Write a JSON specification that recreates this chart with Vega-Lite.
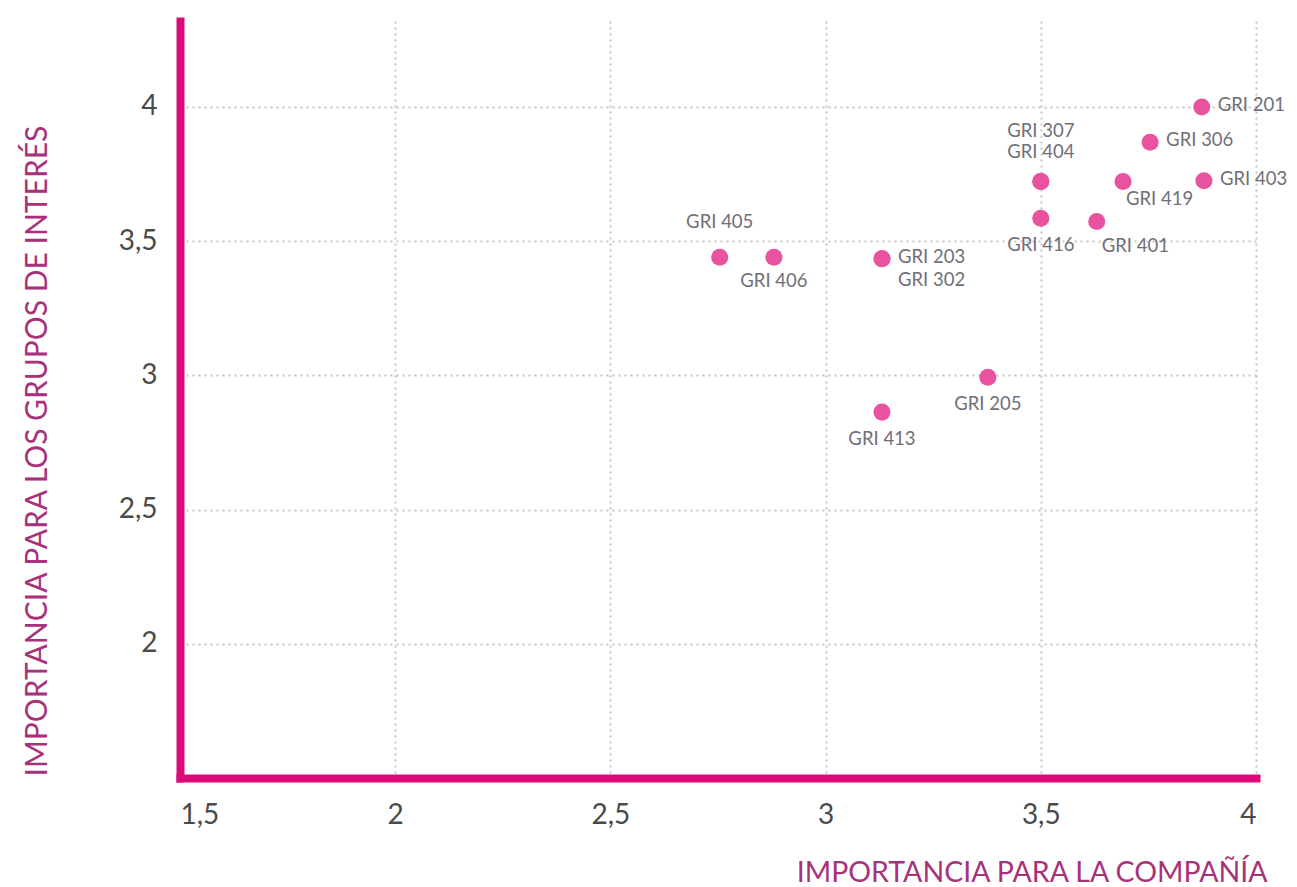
{
  "$schema": "https://vega.github.io/schema/vega-lite/v6.json",
  "autosize": "none",
  "width": 1076,
  "height": 757,
  "padding": {"left": 180, "top": 21, "right": 41, "bottom": 109},
  "background": "white",
  "config": {
    "view": {"stroke": null},
    "font": "Lato",
    "text": {"font": "Lato", "fontSize": 18.5, "color": "#6f6f78", "baseline": "middle"}
  },
  "data": {
    "values": [
      {"codigo": "GRI 201", "compania": 3.874, "grupos": 4.0},
      {"codigo": "GRI 306", "compania": 3.754, "grupos": 3.868},
      {"codigo": "GRI 403", "compania": 3.879, "grupos": 3.725},
      {"codigo": "GRI 419", "compania": 3.691, "grupos": 3.722},
      {"codigo": "GRI 307", "compania": 3.5, "grupos": 3.722},
      {"codigo": "GRI 404", "compania": 3.5, "grupos": 3.722},
      {"codigo": "GRI 416", "compania": 3.5, "grupos": 3.585},
      {"codigo": "GRI 401", "compania": 3.63, "grupos": 3.573},
      {"codigo": "GRI 405", "compania": 2.754, "grupos": 3.44},
      {"codigo": "GRI 406", "compania": 2.88, "grupos": 3.44},
      {"codigo": "GRI 203", "compania": 3.131, "grupos": 3.434},
      {"codigo": "GRI 302", "compania": 3.131, "grupos": 3.434},
      {"codigo": "GRI 205", "compania": 3.377, "grupos": 2.993},
      {"codigo": "GRI 413", "compania": 3.131, "grupos": 2.863}
    ]
  },
  "encoding": {
    "x": {
      "field": "compania", "type": "quantitative",
      "scale": {"domain": [1.5, 4], "nice": false, "zero": false},
      "axis": {
        "values": [1.5, 2, 2.5, 3, 3.5, 4],
        "labelExpr": "replace(toString(datum.value), '.', ',')",
        "labelFont": "Lato", "labelFontSize": 28, "labelColor": "#4a4a4a",
        "labelPadding": 23, "labelBaseline": "top",
        "ticks": false, "tickSize": 0,
        "domainColor": "#dc0a78", "domainWidth": 8, "domainCap": "square",
        "grid": true, "gridColor": "#c4c4c4", "gridDash": [2, 4], "gridWidth": 2,
        "title": "IMPORTANCIA PARA LA COMPAÑÍA",
        "titleFont": "Lato", "titleFontSize": 28.5, "titleFontWeight": "normal",
        "titleColor": "#a8327a", "titleAnchor": "end", "titleAlign": "right",
        "titleBaseline": "alphabetic", "titleX": 1087, "titleY": 103
      }
    },
    "y": {
      "field": "grupos", "type": "quantitative",
      "scale": {"domain": [1.5, 4.32], "nice": false, "zero": false},
      "axis": {
        "values": [1.5, 2, 2.5, 3, 3.5, 4],
        "labelExpr": "datum.value == 1.5 ? '' : replace(toString(datum.value), '.', ',')",
        "labelFont": "Lato", "labelFontSize": 28, "labelColor": "#4a4a4a",
        "labelPadding": 23,
        "ticks": false, "tickSize": 0,
        "domainColor": "#dc0a78", "domainWidth": 8, "domainCap": "square",
        "grid": true, "gridColor": "#c4c4c4", "gridDash": [2, 4], "gridWidth": 2,
        "title": "IMPORTANCIA PARA LOS GRUPOS DE INTERÉS",
        "titleFont": "Lato", "titleFontSize": 30, "titleFontWeight": "normal",
        "titleColor": "#a8327a", "titleAngle": 270, "titleAlign": "left",
        "titleBaseline": "alphabetic", "titleX": -134, "titleY": 755
      }
    }
  },
  "layer": [
    {"mark": {"type": "circle", "size": 290, "color": "#e8529e", "opacity": 1}},
    {
      "transform": [{"filter": {"field": "codigo", "oneOf": ["GRI 201", "GRI 306", "GRI 403", "GRI 203"]}}],
      "mark": {"type": "text", "align": "left", "dx": 16, "dy": -2},
      "encoding": {"text": {"field": "codigo"}}
    },
    {
      "transform": [{"filter": {"field": "codigo", "equal": "GRI 302"}}],
      "mark": {"type": "text", "align": "left", "dx": 16, "dy": 21},
      "encoding": {"text": {"field": "codigo"}}
    },
    {
      "transform": [{"filter": {"field": "codigo", "equal": "GRI 307"}}],
      "mark": {"type": "text", "align": "center", "dy": -51},
      "encoding": {"text": {"field": "codigo"}}
    },
    {
      "transform": [{"filter": {"field": "codigo", "oneOf": ["GRI 404"]}}],
      "mark": {"type": "text", "align": "center", "dy": -30},
      "encoding": {"text": {"field": "codigo"}}
    },
    {
      "transform": [{"filter": {"field": "codigo", "equal": "GRI 405"}}],
      "mark": {"type": "text", "align": "center", "dy": -35},
      "encoding": {"text": {"field": "codigo"}}
    },
    {
      "transform": [{"filter": {"field": "codigo", "oneOf": ["GRI 416", "GRI 205", "GRI 413"]}}],
      "mark": {"type": "text", "align": "center", "dy": 27},
      "encoding": {"text": {"field": "codigo"}}
    },
    {
      "transform": [{"filter": {"field": "codigo", "equal": "GRI 406"}}],
      "mark": {"type": "text", "align": "center", "dy": 24},
      "encoding": {"text": {"field": "codigo"}}
    },
    {
      "transform": [{"filter": {"field": "codigo", "equal": "GRI 419"}}],
      "mark": {"type": "text", "align": "left", "dx": 3, "dy": 17},
      "encoding": {"text": {"field": "codigo"}}
    },
    {
      "transform": [{"filter": {"field": "codigo", "equal": "GRI 401"}}],
      "mark": {"type": "text", "align": "left", "dx": 5, "dy": 24},
      "encoding": {"text": {"field": "codigo"}}
    }
  ]
}
